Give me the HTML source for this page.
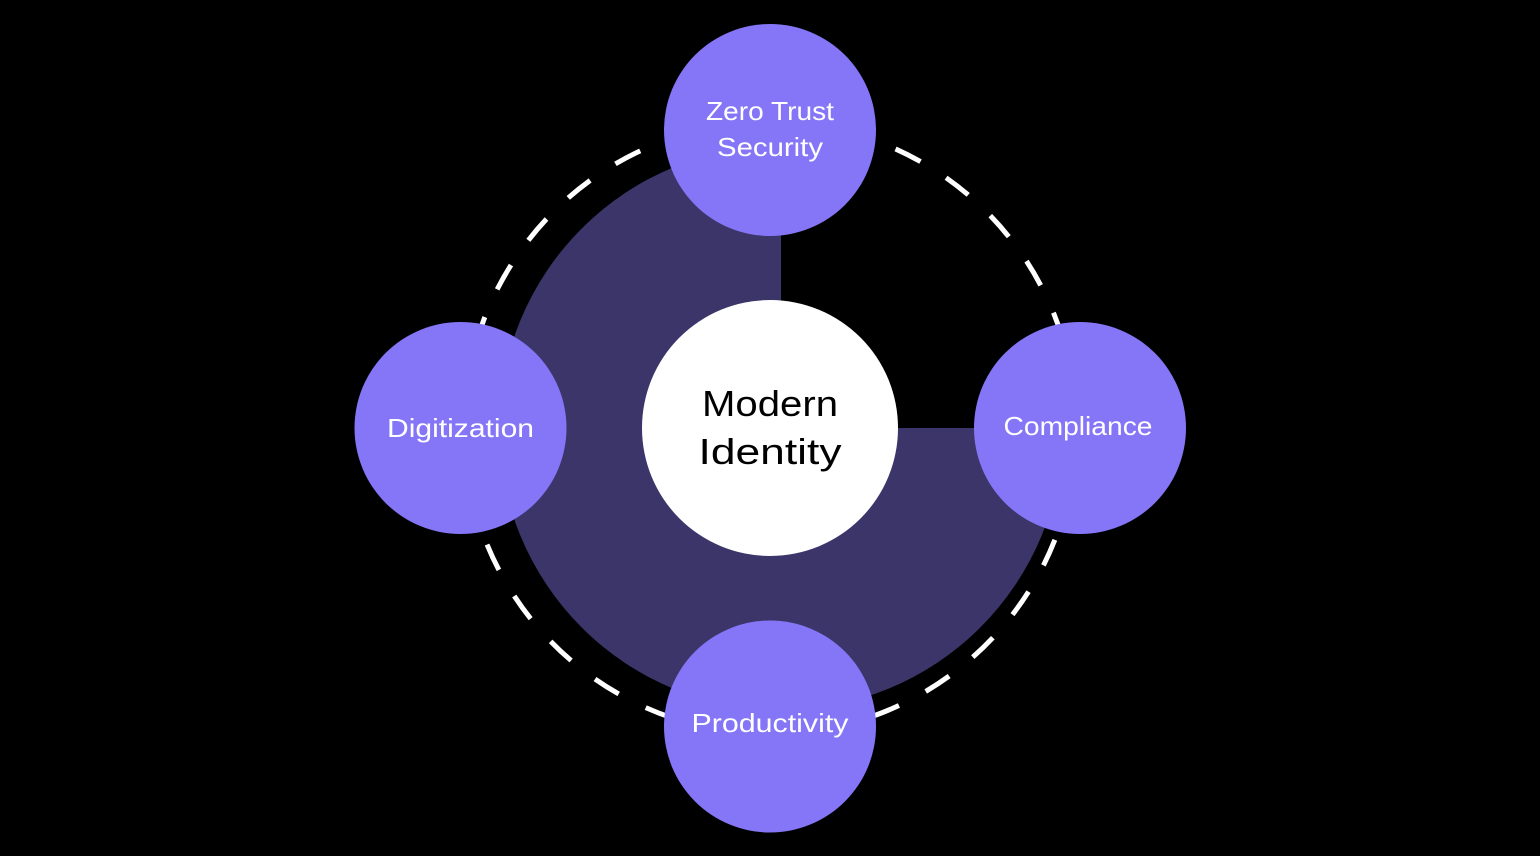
<!DOCTYPE html>
<html>
<head>
<meta charset="utf-8">
<style>
  html, body { margin:0; padding:0; background:#000; }
  body { width:1540px; height:856px; overflow:hidden; }
  svg { display:block; }
  text { font-family: "Liberation Sans", "DejaVu Sans", sans-serif; }
</style>
</head>
<body>
<svg width="1540" height="856" viewBox="0 0 1540 856" xmlns="http://www.w3.org/2000/svg">
  <rect x="0" y="0" width="1540" height="856" fill="#000"/>

  <!-- dashed ring -->
  <circle cx="770" cy="428" r="306" fill="none" stroke="#ffffff" stroke-width="5"
          stroke-dasharray="28 30.27" stroke-dashoffset="2.1"/>

  <!-- three-quarter dark disc (missing top-right quadrant) -->
  <path d="M781,428 L781,146 A282,282 0 1 0 1063,428 Z" fill="#3B3569"/>

  <!-- center circle -->
  <circle cx="770" cy="428" r="128" fill="#ffffff"/>
  <text x="770" y="416" text-anchor="middle" font-size="36" fill="#000" textLength="136" lengthAdjust="spacingAndGlyphs">Modern</text>
  <text x="770" y="464" text-anchor="middle" font-size="36" fill="#000" textLength="143" lengthAdjust="spacingAndGlyphs">Identity</text>

  <!-- nodes -->
  <circle cx="770" cy="130" r="106" fill="#8476F6"/>
  <circle cx="460.5" cy="428" r="106" fill="#8476F6"/>
  <circle cx="1080" cy="428" r="106" fill="#8476F6"/>
  <circle cx="770" cy="726.5" r="106" fill="#8476F6"/>

  <text x="770" y="120" text-anchor="middle" font-size="26" fill="#fff" textLength="128" lengthAdjust="spacingAndGlyphs">Zero Trust</text>
  <text x="770" y="156" text-anchor="middle" font-size="26" fill="#fff" textLength="106" lengthAdjust="spacingAndGlyphs">Security</text>
  <text x="460.5" y="437" text-anchor="middle" font-size="26" fill="#fff" textLength="147" lengthAdjust="spacingAndGlyphs">Digitization</text>
  <text x="1078" y="435" text-anchor="middle" font-size="26" fill="#fff" textLength="149" lengthAdjust="spacingAndGlyphs">Compliance</text>
  <text x="770" y="732" text-anchor="middle" font-size="26" fill="#fff" textLength="157" lengthAdjust="spacingAndGlyphs">Productivity</text>
</svg>
</body>
</html>
